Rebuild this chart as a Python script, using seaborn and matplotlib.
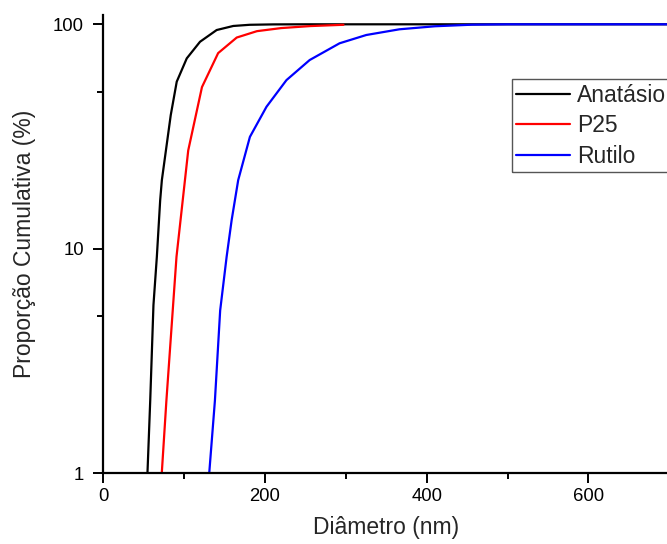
import numpy as np
import pandas as pd
import matplotlib
matplotlib.use("Agg")
import matplotlib.pyplot as plt
from matplotlib.patches import Rectangle
from matplotlib.ticker import FixedLocator, NullFormatter, FixedFormatter
import seaborn as sns

# Cumulative size distributions (diameter in nm, cumulative proportion in %)
anatasio_d = [53.5, 54.6, 58.0, 62.0, 66.2, 70.3, 72.4, 83.4, 90.8, 103.2, 119.6,
              140.2, 160.7, 181.0, 210.0, 250.0, 800.0]
anatasio_p = [0.75, 1.0, 2.1, 5.6, 9.2, 16.4, 20.2, 39.4, 55.5, 70.5, 83.6,
              94.3, 98.3, 99.5, 99.9, 100.0, 100.0]

p25_d = [67.3, 78.0, 90.5, 105.0, 122.0, 142.0, 165.0, 190.0, 220.0, 256.0, 297.0]
p25_p = [0.52, 2.1, 9.2, 27.4, 52.5, 74.4, 87.3, 93.2, 96.2, 98.2, 99.5]

rutilo_d = [129.0, 131.0, 138.0, 144.5, 152.5, 158.7, 166.8, 181.3, 201.8, 226.5,
            255.2, 292.2, 325.2, 366.2, 410.0, 456.0, 500.0, 800.0]
rutilo_p = [0.6, 1.0, 2.1, 5.3, 9.2, 13.4, 20.2, 31.5, 42.9, 56.4,
            69.3, 82.3, 89.6, 95.0, 98.0, 99.6, 100.0, 100.0]

series_names = ["Anatásio", "P25", "Rutilo"]
series_colors = ["#000000", "#FF0000", "#0000FF"]

x_ticks = [0, 200, 400, 600]
y_ticks = [1, 10, 100]
y_tick_labels = ["1", "10", "100"]

df = pd.concat([
    pd.DataFrame({"Diâmetro": anatasio_d, "Proporção": anatasio_p, "Amostra": series_names[0]}),
    pd.DataFrame({"Diâmetro": p25_d, "Proporção": p25_p, "Amostra": series_names[1]}),
    pd.DataFrame({"Diâmetro": rutilo_d, "Proporção": rutilo_p, "Amostra": series_names[2]}),
], ignore_index=True)

sns.set_style("ticks")
plt.rcParams["font.family"] = ["Liberation Sans", "DejaVu Sans"]

fig = plt.figure(figsize=(6.67, 5.44), dpi=100)
ax = fig.add_axes([0.1549, 0.1305, 0.8486, 0.8419])

sns.lineplot(data=df, x="Diâmetro", y="Proporção", hue="Amostra",
             hue_order=series_names, palette=series_colors,
             estimator=None, sort=True, linewidth=1.6, ax=ax, legend=True)

ax.set_yscale("log")
ax.set_xlim(0, 700)
ax.set_ylim(1, 110)

ax.xaxis.set_major_locator(FixedLocator(x_ticks))
ax.xaxis.set_minor_locator(FixedLocator([100, 300, 500, 700]))
ax.yaxis.set_major_locator(FixedLocator(y_ticks))
ax.yaxis.set_major_formatter(FixedFormatter(y_tick_labels))
ax.yaxis.set_minor_locator(FixedLocator([5, 50]))
ax.yaxis.set_minor_formatter(NullFormatter())

for side in ["top", "right"]:
    ax.spines[side].set_visible(False)
for side in ["left", "bottom"]:
    ax.spines[side].set_linewidth(1.6)
    ax.spines[side].set_color("black")

ax.tick_params(axis="both", which="major", direction="out", length=7, width=1.4,
               colors="black", labelsize=13.3)
ax.tick_params(axis="both", which="minor", direction="out", length=4, width=1.4,
               colors="black")
ax.tick_params(axis="x", which="major", pad=3.5)
ax.tick_params(axis="y", which="major", pad=7)

ax.set_xlabel("Diâmetro (nm)", fontsize=16.5, labelpad=8)
ax.set_ylabel("Proporção Cumulativa (%)", fontsize=16.5, labelpad=12)

handles, labels = ax.get_legend_handles_labels()
leg = ax.legend(handles, labels, loc="upper left",
                bbox_to_anchor=(511.7 / 667, 1 - 79 / 544),
                bbox_transform=fig.transFigure, borderaxespad=0,
                fontsize=16.5, frameon=False,
                handlelength=2.36, handletextpad=0.3, labelspacing=0.33,
                borderpad=0.2)
for line in leg.get_lines():
    line.set_linewidth(1.6)

# Legend frame: same height as the legend, running off the right edge
fig.canvas.draw()
lb = leg.get_window_extent().transformed(fig.transFigure.inverted())
fig.add_artist(Rectangle((lb.x0, lb.y0), 0.4, lb.height,
                         transform=fig.transFigure, fill=False,
                         edgecolor="#555555", linewidth=1.0, zorder=5))

fig.savefig("out.png", dpi=100)
